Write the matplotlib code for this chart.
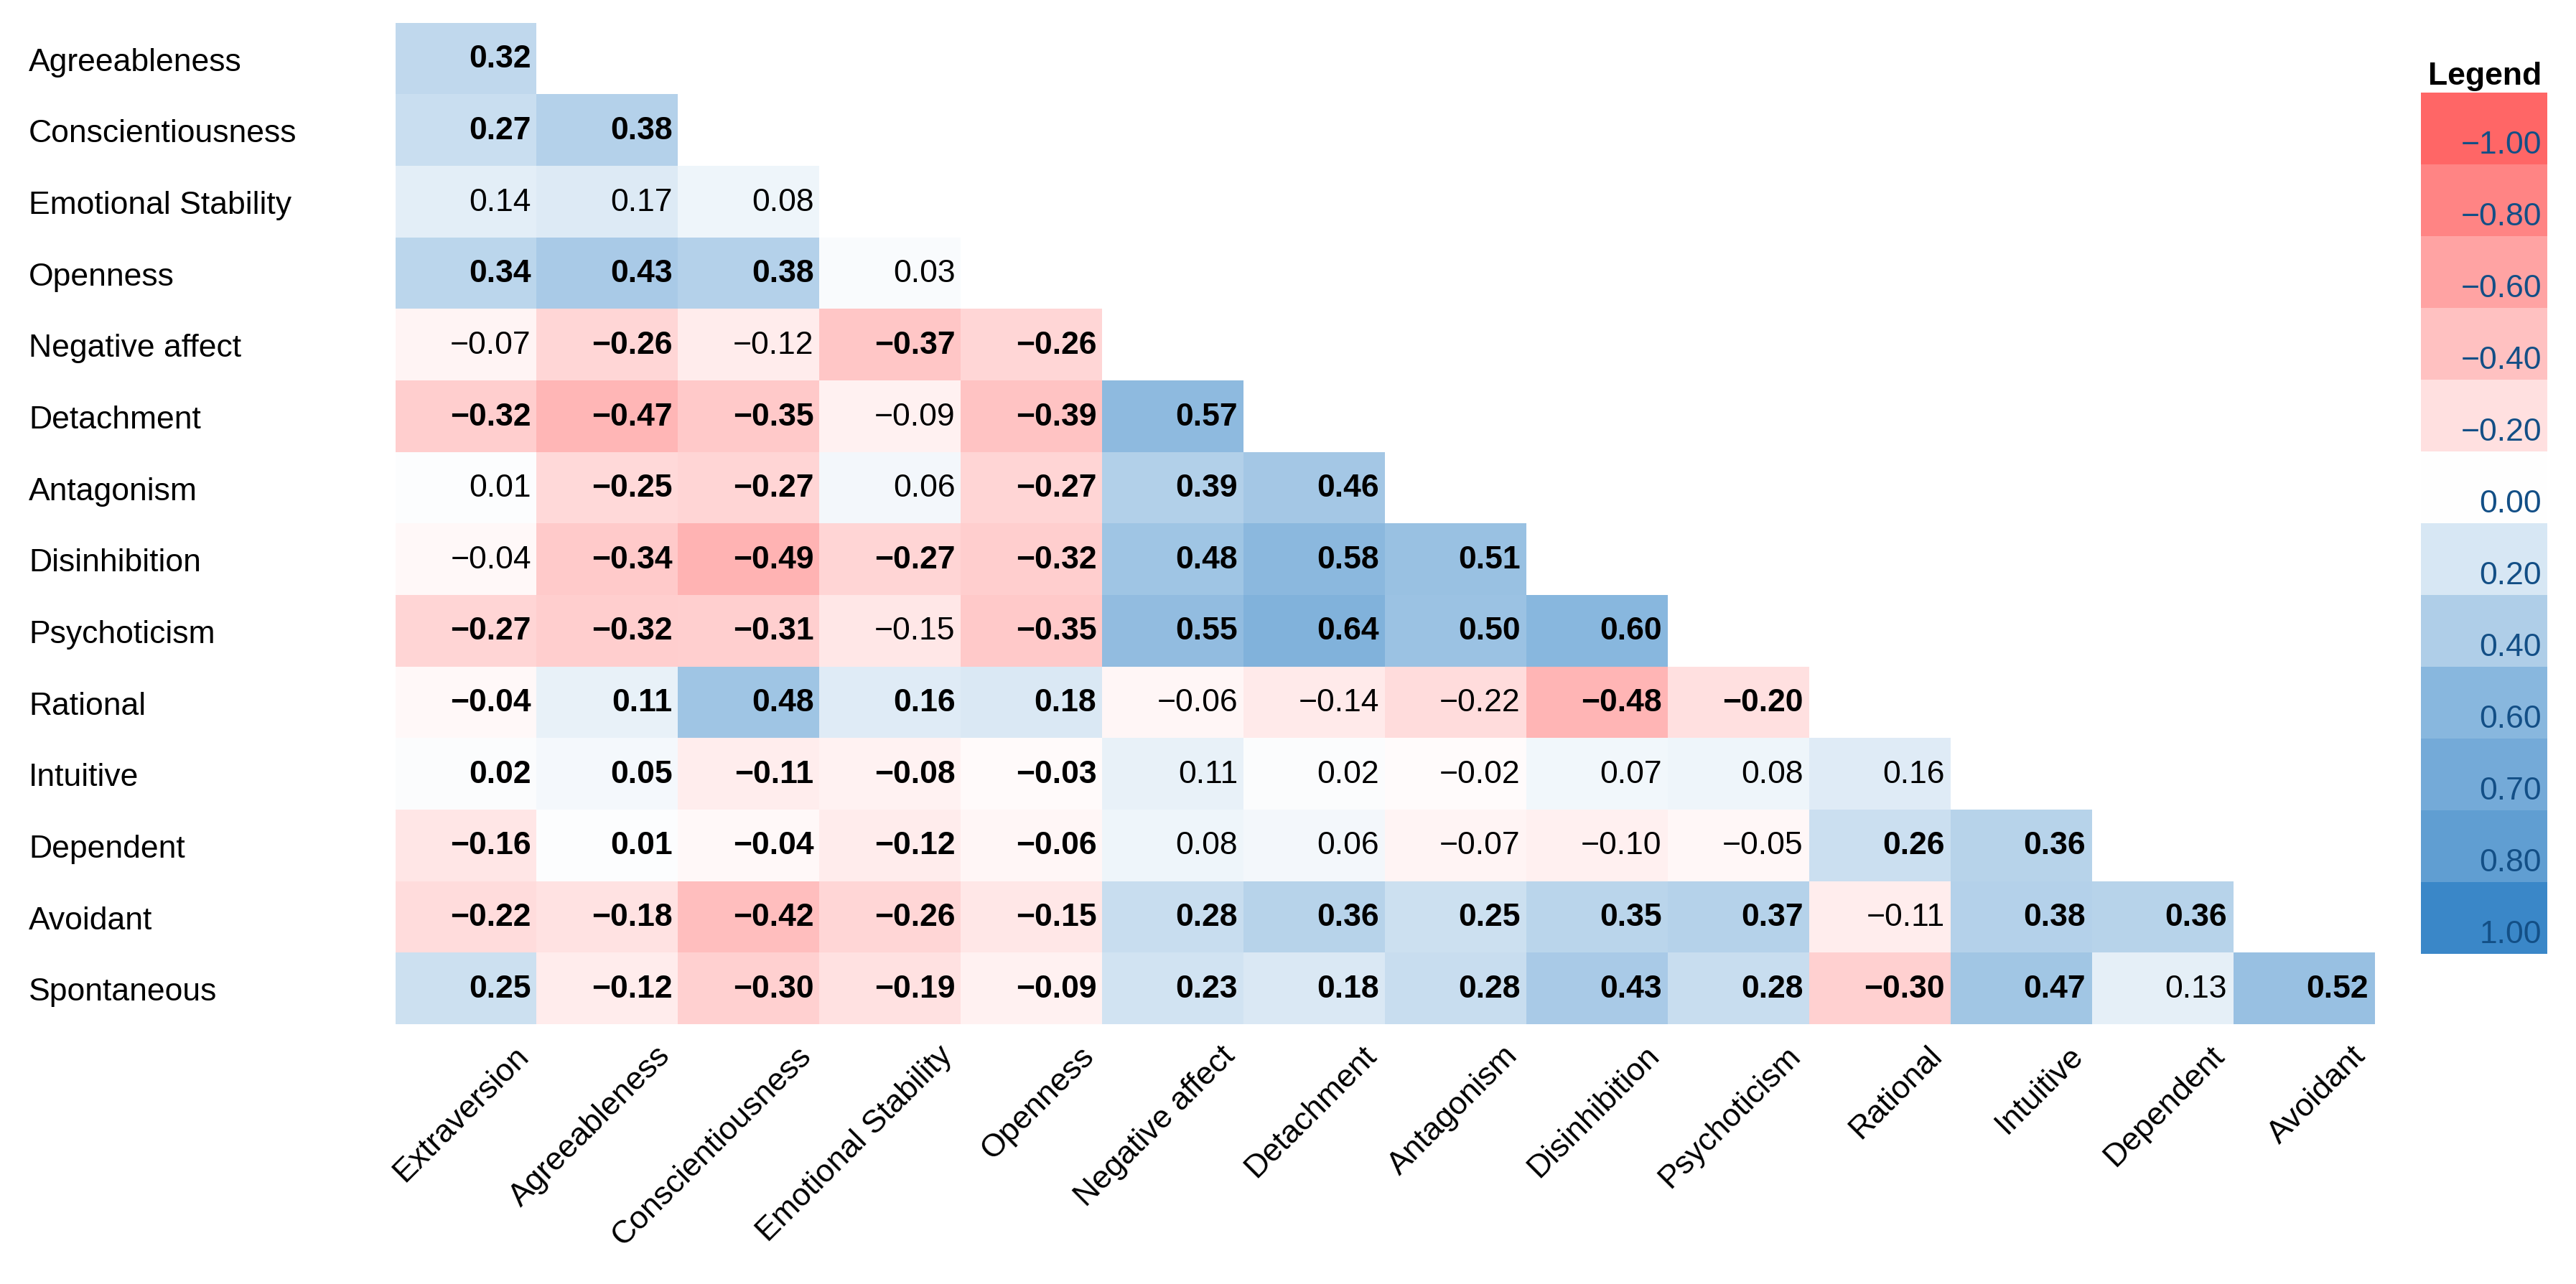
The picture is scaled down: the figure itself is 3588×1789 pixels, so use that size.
import numpy as np
import matplotlib
matplotlib.use("Agg")
import matplotlib.pyplot as plt
from matplotlib.colors import LinearSegmentedColormap
from matplotlib.transforms import ScaledTranslation

plt.rcParams['font.family'] = ['Liberation Sans', 'DejaVu Sans']

# Labels
row_labels = ['Agreeableness', 'Conscientiousness', 'Emotional Stability', 'Openness',
              'Negative affect', 'Detachment', 'Antagonism', 'Disinhibition', 'Psychoticism',
              'Rational', 'Intuitive', 'Dependent', 'Avoidant', 'Spontaneous']
col_labels = ['Extraversion', 'Agreeableness', 'Conscientiousness', 'Emotional Stability',
              'Openness', 'Negative affect', 'Detachment', 'Antagonism', 'Disinhibition',
              'Psychoticism', 'Rational', 'Intuitive', 'Dependent', 'Avoidant']

# Lower-triangle correlations (row i has i+1 values)
values = [
    [0.32],
    [0.27, 0.38],
    [0.14, 0.17, 0.08],
    [0.34, 0.43, 0.38, 0.03],
    [-0.07, -0.26, -0.12, -0.37, -0.26],
    [-0.32, -0.47, -0.35, -0.09, -0.39, 0.57],
    [0.01, -0.25, -0.27, 0.06, -0.27, 0.39, 0.46],
    [-0.04, -0.34, -0.49, -0.27, -0.32, 0.48, 0.58, 0.51],
    [-0.27, -0.32, -0.31, -0.15, -0.35, 0.55, 0.64, 0.50, 0.60],
    [-0.04, 0.11, 0.48, 0.16, 0.18, -0.06, -0.14, -0.22, -0.48, -0.20],
    [0.02, 0.05, -0.11, -0.08, -0.03, 0.11, 0.02, -0.02, 0.07, 0.08, 0.16],
    [-0.16, 0.01, -0.04, -0.12, -0.06, 0.08, 0.06, -0.07, -0.10, -0.05, 0.26, 0.36],
    [-0.22, -0.18, -0.42, -0.26, -0.15, 0.28, 0.36, 0.25, 0.35, 0.37, -0.11, 0.38, 0.36],
    [0.25, -0.12, -0.30, -0.19, -0.09, 0.23, 0.18, 0.28, 0.43, 0.28, -0.30, 0.47, 0.13, 0.52],
]

# 1 = shown in bold (significant)
significant = [
    [1],
    [1, 1],
    [0, 0, 0],
    [1, 1, 1, 0],
    [0, 1, 0, 1, 1],
    [1, 1, 1, 0, 1, 1],
    [0, 1, 1, 0, 1, 1, 1],
    [0, 1, 1, 1, 1, 1, 1, 1],
    [1, 1, 1, 0, 1, 1, 1, 1, 1],
    [1, 1, 1, 1, 1, 0, 0, 0, 1, 1],
    [1, 1, 1, 1, 1, 0, 0, 0, 0, 0, 0],
    [1, 1, 1, 1, 1, 0, 0, 0, 0, 0, 1, 1],
    [1, 1, 1, 1, 1, 1, 1, 1, 1, 1, 0, 1, 1],
    [1, 1, 1, 1, 1, 1, 1, 1, 1, 1, 1, 1, 0, 1],
]

legend_values = [-1.00, -0.80, -0.60, -0.40, -0.20, 0.00, 0.20, 0.40, 0.60, 0.70, 0.80, 1.00]

n_rows, n_cols = len(row_labels), len(col_labels)
mat = np.full((n_rows, n_cols), np.nan)
for i, row in enumerate(values):
    mat[i, :len(row)] = row

cmap = LinearSegmentedColormap.from_list('rwb', ['#ff6666', '#ffffff', '#3a87c8'])

W, H = 3588, 1790
DPI = 200
fig = plt.figure(figsize=(W / DPI, H / DPI), dpi=DPI)

# main heatmap
left, right, top, bottom = 551, 3307, 33, 1428
ax = fig.add_axes([left / W, 1 - bottom / H, (right - left) / W, (bottom - top) / H])
ax.imshow(np.ma.masked_invalid(mat), cmap=cmap, vmin=-1, vmax=1, aspect='auto',
          interpolation='nearest', extent=(0, n_cols, n_rows, 0))
ax.set_xlim(0, n_cols)
ax.set_ylim(n_rows, 0)
for s in ax.spines.values():
    s.set_visible(False)

fs = 16
for i, row in enumerate(values):
    for j, v in enumerate(row):
        txt = f'{v:.2f}'.replace('-', '\u2212')
        ax.text(j + 1, i + 0.5, txt, ha='right', va='center', fontsize=fs,
                fontweight='bold' if significant[i][j] else 'normal', color='black',
                transform=ax.transData + ScaledTranslation(-8 / DPI, 0, fig.dpi_scale_trans))

# row labels
ax.set_yticks(np.arange(n_rows) + 0.5)
ax.set_yticklabels(row_labels, fontsize=fs, ha='left')
ax.tick_params(axis='y', length=0, pad=(left - 40) / DPI * 72)

# column labels, rotated
ax.set_xticks(np.arange(n_cols) + 0.5)
ax.set_xticklabels(col_labels, fontsize=fs, rotation=45, ha='right', va='top')
ax.tick_params(axis='x', length=0, pad=8)
shift = ScaledTranslation(95 / DPI, 0, fig.dpi_scale_trans)
for lab in ax.get_xticklabels():
    lab.set_transform(lab.get_transform() + shift)

# legend column
lg_left, lg_right, lg_top, lg_bottom = 3372, 3548, 130, 1330
lax = fig.add_axes([lg_left / W, 1 - lg_bottom / H, (lg_right - lg_left) / W, (lg_bottom - lg_top) / H])
lax.imshow(np.array(legend_values).reshape(-1, 1), cmap=cmap, vmin=-1, vmax=1, aspect='auto',
           interpolation='nearest', extent=(0, 1, len(legend_values), 0))
lax.set_xlim(0, 1)
lax.set_ylim(len(legend_values), 0)
lax.axis('off')
for k, v in enumerate(legend_values):
    lax.text(0.955, k + 0.84, f'{v:.2f}'.replace('-', '\u2212'), ha='right', va='baseline',
             fontsize=fs, color='#134f86')
fig.text(3540 / W, 1 - 118 / H, 'Legend', ha='right', va='baseline', fontsize=fs,
         fontweight='bold', color='black')

fig.savefig('out.png', dpi=DPI)
